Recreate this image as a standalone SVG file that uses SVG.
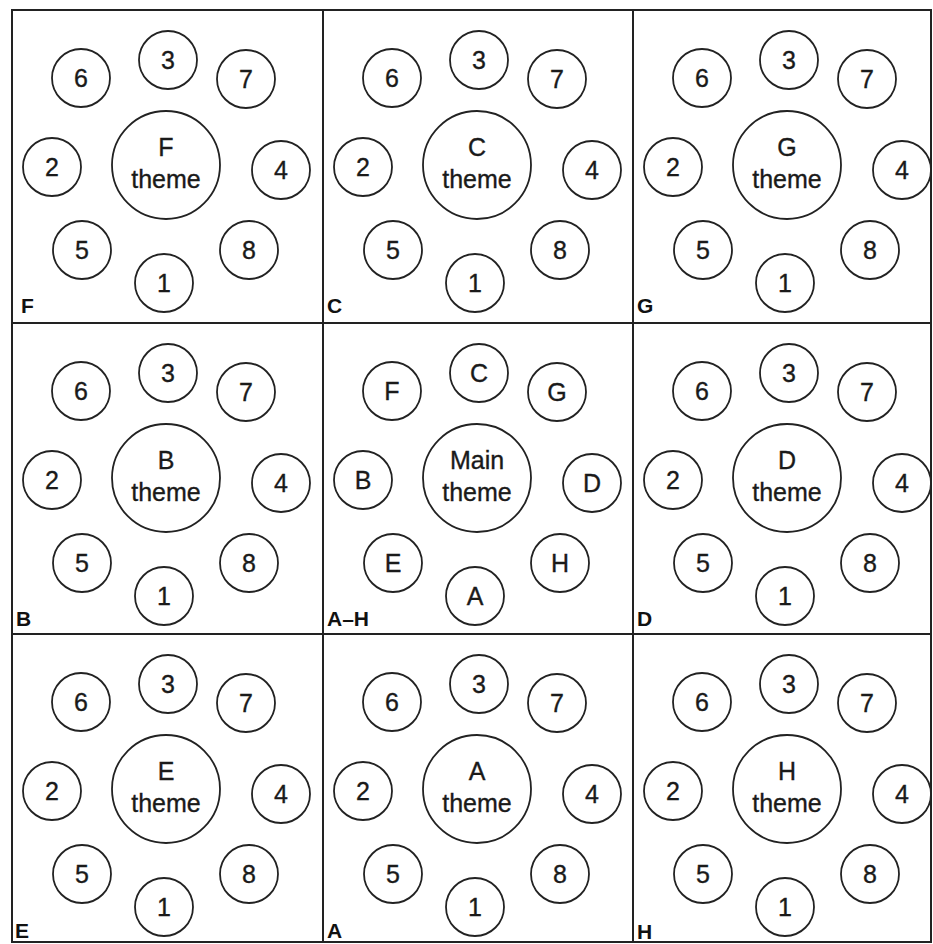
<svg xmlns="http://www.w3.org/2000/svg" width="933" height="944" viewBox="0 0 933 944">
<style>
.bg{fill:#ffffff}
.grid{fill:none;stroke:#222;stroke-width:2}
.n{fill:none;stroke:#222;stroke-width:1.8}
.t{font-family:"Liberation Sans",Arial,sans-serif;font-size:25px;fill:#1a1a1a;stroke:#1a1a1a;stroke-width:0.35;text-anchor:middle}
.lb{font-family:"Liberation Sans",Arial,sans-serif;font-size:21px;font-weight:bold;fill:#111}
</style>
<rect class="bg" x="0" y="0" width="933" height="944"/>
<g id="connectors">
<rect class="grid" x="12" y="10" width="919" height="932"/>
<line class="grid" x1="323" y1="10" x2="323" y2="942"/>
<line class="grid" x1="633" y1="10" x2="633" y2="942"/>
<line class="grid" x1="12" y1="323" x2="931" y2="323"/>
<line class="grid" x1="12" y1="634" x2="931" y2="634"/>
</g>

<g id="cell-F" transform="translate(12,10)">
<g id="F-3"><circle class="n" cx="156" cy="50" r="29"/><text class="t" x="156" y="59">3</text></g>
<g id="F-6"><circle class="n" cx="69" cy="68" r="29"/><text class="t" x="69" y="77">6</text></g>
<g id="F-7"><circle class="n" cx="234" cy="69" r="29"/><text class="t" x="234" y="78">7</text></g>
<g id="F-2"><circle class="n" cx="40" cy="157" r="29"/><text class="t" x="40" y="166">2</text></g>
<g id="F-4"><circle class="n" cx="269" cy="160" r="29"/><text class="t" x="269" y="169">4</text></g>
<g id="F-main"><circle class="n" cx="154" cy="155" r="54"/><text class="t" x="154" y="146">F</text><text class="t" x="154" y="178">theme</text></g>
<g id="F-5"><circle class="n" cx="70" cy="240" r="29"/><text class="t" x="70" y="249">5</text></g>
<g id="F-8"><circle class="n" cx="237" cy="240" r="29"/><text class="t" x="237" y="249">8</text></g>
<g id="F-1"><circle class="n" cx="152" cy="273" r="29"/><text class="t" x="152" y="282">1</text></g>
<text class="lb" x="9" y="303">F</text>
</g>

<g id="cell-C" transform="translate(323,10)">
<g id="C-3"><circle class="n" cx="156" cy="50" r="29"/><text class="t" x="156" y="59">3</text></g>
<g id="C-6"><circle class="n" cx="69" cy="68" r="29"/><text class="t" x="69" y="77">6</text></g>
<g id="C-7"><circle class="n" cx="234" cy="69" r="29"/><text class="t" x="234" y="78">7</text></g>
<g id="C-2"><circle class="n" cx="40" cy="157" r="29"/><text class="t" x="40" y="166">2</text></g>
<g id="C-4"><circle class="n" cx="269" cy="160" r="29"/><text class="t" x="269" y="169">4</text></g>
<g id="C-main"><circle class="n" cx="154" cy="155" r="54"/><text class="t" x="154" y="146">C</text><text class="t" x="154" y="178">theme</text></g>
<g id="C-5"><circle class="n" cx="70" cy="240" r="29"/><text class="t" x="70" y="249">5</text></g>
<g id="C-8"><circle class="n" cx="237" cy="240" r="29"/><text class="t" x="237" y="249">8</text></g>
<g id="C-1"><circle class="n" cx="152" cy="273" r="29"/><text class="t" x="152" y="282">1</text></g>
<text class="lb" x="4" y="303">C</text>
</g>

<g id="cell-G" transform="translate(633,10)">
<g id="G-3"><circle class="n" cx="156" cy="50" r="29"/><text class="t" x="156" y="59">3</text></g>
<g id="G-6"><circle class="n" cx="69" cy="68" r="29"/><text class="t" x="69" y="77">6</text></g>
<g id="G-7"><circle class="n" cx="234" cy="69" r="29"/><text class="t" x="234" y="78">7</text></g>
<g id="G-2"><circle class="n" cx="40" cy="157" r="29"/><text class="t" x="40" y="166">2</text></g>
<g id="G-4"><circle class="n" cx="269" cy="160" r="29"/><text class="t" x="269" y="169">4</text></g>
<g id="G-main"><circle class="n" cx="154" cy="155" r="54"/><text class="t" x="154" y="146">G</text><text class="t" x="154" y="178">theme</text></g>
<g id="G-5"><circle class="n" cx="70" cy="240" r="29"/><text class="t" x="70" y="249">5</text></g>
<g id="G-8"><circle class="n" cx="237" cy="240" r="29"/><text class="t" x="237" y="249">8</text></g>
<g id="G-1"><circle class="n" cx="152" cy="273" r="29"/><text class="t" x="152" y="282">1</text></g>
<text class="lb" x="4" y="303">G</text>
</g>

<g id="cell-B" transform="translate(12,323)">
<g id="B-3"><circle class="n" cx="156" cy="50" r="29"/><text class="t" x="156" y="59">3</text></g>
<g id="B-6"><circle class="n" cx="69" cy="68" r="29"/><text class="t" x="69" y="77">6</text></g>
<g id="B-7"><circle class="n" cx="234" cy="69" r="29"/><text class="t" x="234" y="78">7</text></g>
<g id="B-2"><circle class="n" cx="40" cy="157" r="29"/><text class="t" x="40" y="166">2</text></g>
<g id="B-4"><circle class="n" cx="269" cy="160" r="29"/><text class="t" x="269" y="169">4</text></g>
<g id="B-main"><circle class="n" cx="154" cy="155" r="54"/><text class="t" x="154" y="146">B</text><text class="t" x="154" y="178">theme</text></g>
<g id="B-5"><circle class="n" cx="70" cy="240" r="29"/><text class="t" x="70" y="249">5</text></g>
<g id="B-8"><circle class="n" cx="237" cy="240" r="29"/><text class="t" x="237" y="249">8</text></g>
<g id="B-1"><circle class="n" cx="152" cy="273" r="29"/><text class="t" x="152" y="282">1</text></g>
<text class="lb" x="4" y="303">B</text>
</g>

<g id="cell-AH" transform="translate(323,323)">
<g id="M-C"><circle class="n" cx="156" cy="50" r="29"/><text class="t" x="156" y="59">C</text></g>
<g id="M-F"><circle class="n" cx="69" cy="68" r="29"/><text class="t" x="69" y="77">F</text></g>
<g id="M-G"><circle class="n" cx="234" cy="69" r="29"/><text class="t" x="234" y="78">G</text></g>
<g id="M-B"><circle class="n" cx="40" cy="157" r="29"/><text class="t" x="40" y="166">B</text></g>
<g id="M-D"><circle class="n" cx="269" cy="160" r="29"/><text class="t" x="269" y="169">D</text></g>
<g id="M-main"><circle class="n" cx="154" cy="155" r="54"/><text class="t" x="154" y="146">Main</text><text class="t" x="154" y="178">theme</text></g>
<g id="M-E"><circle class="n" cx="70" cy="240" r="29"/><text class="t" x="70" y="249">E</text></g>
<g id="M-H"><circle class="n" cx="237" cy="240" r="29"/><text class="t" x="237" y="249">H</text></g>
<g id="M-A"><circle class="n" cx="152" cy="273" r="29"/><text class="t" x="152" y="282">A</text></g>
<text class="lb" x="4" y="303">A–H</text>
</g>

<g id="cell-D" transform="translate(633,323)">
<g id="D-3"><circle class="n" cx="156" cy="50" r="29"/><text class="t" x="156" y="59">3</text></g>
<g id="D-6"><circle class="n" cx="69" cy="68" r="29"/><text class="t" x="69" y="77">6</text></g>
<g id="D-7"><circle class="n" cx="234" cy="69" r="29"/><text class="t" x="234" y="78">7</text></g>
<g id="D-2"><circle class="n" cx="40" cy="157" r="29"/><text class="t" x="40" y="166">2</text></g>
<g id="D-4"><circle class="n" cx="269" cy="160" r="29"/><text class="t" x="269" y="169">4</text></g>
<g id="D-main"><circle class="n" cx="154" cy="155" r="54"/><text class="t" x="154" y="146">D</text><text class="t" x="154" y="178">theme</text></g>
<g id="D-5"><circle class="n" cx="70" cy="240" r="29"/><text class="t" x="70" y="249">5</text></g>
<g id="D-8"><circle class="n" cx="237" cy="240" r="29"/><text class="t" x="237" y="249">8</text></g>
<g id="D-1"><circle class="n" cx="152" cy="273" r="29"/><text class="t" x="152" y="282">1</text></g>
<text class="lb" x="4" y="303">D</text>
</g>

<g id="cell-E" transform="translate(12,634)">
<g id="E-3"><circle class="n" cx="156" cy="50" r="29"/><text class="t" x="156" y="59">3</text></g>
<g id="E-6"><circle class="n" cx="69" cy="68" r="29"/><text class="t" x="69" y="77">6</text></g>
<g id="E-7"><circle class="n" cx="234" cy="69" r="29"/><text class="t" x="234" y="78">7</text></g>
<g id="E-2"><circle class="n" cx="40" cy="157" r="29"/><text class="t" x="40" y="166">2</text></g>
<g id="E-4"><circle class="n" cx="269" cy="160" r="29"/><text class="t" x="269" y="169">4</text></g>
<g id="E-main"><circle class="n" cx="154" cy="155" r="54"/><text class="t" x="154" y="146">E</text><text class="t" x="154" y="178">theme</text></g>
<g id="E-5"><circle class="n" cx="70" cy="240" r="29"/><text class="t" x="70" y="249">5</text></g>
<g id="E-8"><circle class="n" cx="237" cy="240" r="29"/><text class="t" x="237" y="249">8</text></g>
<g id="E-1"><circle class="n" cx="152" cy="273" r="29"/><text class="t" x="152" y="282">1</text></g>
<text class="lb" x="3" y="304">E</text>
</g>

<g id="cell-A" transform="translate(323,634)">
<g id="A-3"><circle class="n" cx="156" cy="50" r="29"/><text class="t" x="156" y="59">3</text></g>
<g id="A-6"><circle class="n" cx="69" cy="68" r="29"/><text class="t" x="69" y="77">6</text></g>
<g id="A-7"><circle class="n" cx="234" cy="69" r="29"/><text class="t" x="234" y="78">7</text></g>
<g id="A-2"><circle class="n" cx="40" cy="157" r="29"/><text class="t" x="40" y="166">2</text></g>
<g id="A-4"><circle class="n" cx="269" cy="160" r="29"/><text class="t" x="269" y="169">4</text></g>
<g id="A-main"><circle class="n" cx="154" cy="155" r="54"/><text class="t" x="154" y="146">A</text><text class="t" x="154" y="178">theme</text></g>
<g id="A-5"><circle class="n" cx="70" cy="240" r="29"/><text class="t" x="70" y="249">5</text></g>
<g id="A-8"><circle class="n" cx="237" cy="240" r="29"/><text class="t" x="237" y="249">8</text></g>
<g id="A-1"><circle class="n" cx="152" cy="273" r="29"/><text class="t" x="152" y="282">1</text></g>
<text class="lb" x="4" y="304">A</text>
</g>

<g id="cell-H" transform="translate(633,634)">
<g id="H-3"><circle class="n" cx="156" cy="50" r="29"/><text class="t" x="156" y="59">3</text></g>
<g id="H-6"><circle class="n" cx="69" cy="68" r="29"/><text class="t" x="69" y="77">6</text></g>
<g id="H-7"><circle class="n" cx="234" cy="69" r="29"/><text class="t" x="234" y="78">7</text></g>
<g id="H-2"><circle class="n" cx="40" cy="157" r="29"/><text class="t" x="40" y="166">2</text></g>
<g id="H-4"><circle class="n" cx="269" cy="160" r="29"/><text class="t" x="269" y="169">4</text></g>
<g id="H-main"><circle class="n" cx="154" cy="155" r="54"/><text class="t" x="154" y="146">H</text><text class="t" x="154" y="178">theme</text></g>
<g id="H-5"><circle class="n" cx="70" cy="240" r="29"/><text class="t" x="70" y="249">5</text></g>
<g id="H-8"><circle class="n" cx="237" cy="240" r="29"/><text class="t" x="237" y="249">8</text></g>
<g id="H-1"><circle class="n" cx="152" cy="273" r="29"/><text class="t" x="152" y="282">1</text></g>
<text class="lb" x="4" y="305">H</text>
</g>
</svg>
